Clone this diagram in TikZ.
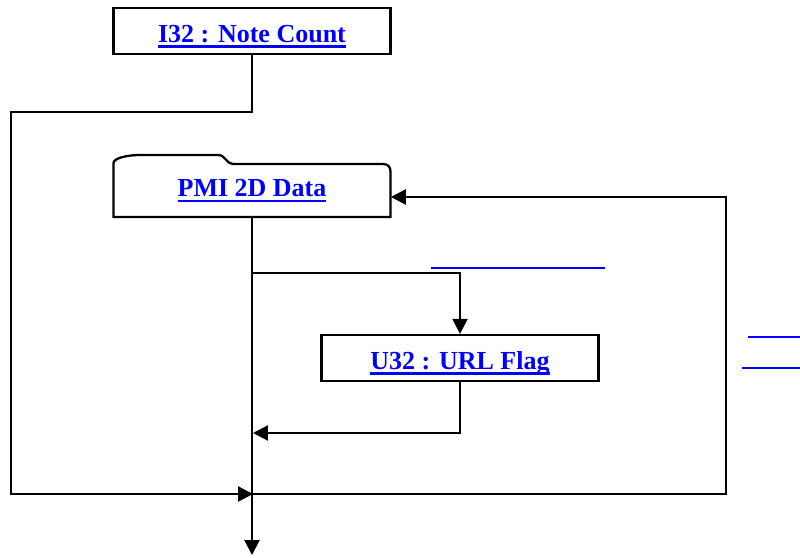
\documentclass[tikz,border=0pt]{standalone}
\usepackage{fontspec}
\setmainfont{Liberation Serif}
\usepackage{tikz}
\usetikzlibrary{positioning, arrows.meta}

\definecolor{linkblue}{RGB}{0,0,255}
\newcommand{\lnk}[1]{\textcolor{linkblue}{\sbox0{#1}\rlap{\usebox0}\rule[-3pt]{\wd0}{1.5pt}}}

\begin{document}
\begin{tikzpicture}[x=0.02cm, y=-0.02cm,
field/.style={rectangle, draw, line width=1.3pt, minimum width=5.54cm, minimum height=0.92cm,
  text height=13.6pt, text depth=0.4pt, font=\fontsize{14.8}{17}\selectfont\bfseries},
data/.style={rectangle, minimum width=5.54cm, minimum height=1.04cm,
  text height=10.2pt, text depth=3.4pt, font=\fontsize{14.8}{17}\selectfont\bfseries},
line/.style={line width=1.3pt},
arr/.style={line width=1.3pt, -{Triangle[length=8.5pt, width=8.5pt]}},
blank/.style={line width=1.5pt, linkblue}
]
\useasboundingbox (0,0) rectangle (800,557);

\node[field] (count) at (252,31) {\lnk{I32 : Note Count}};
\node[data] (pmi) at (252,191) {\lnk{PMI 2D Data}};
\node[field] (url) at (460,358) {\lnk{U32 : URL Flag}};

% folder outline round PMI
\draw[line] (113.5,217) -- (113.5,163) .. controls (113.5,158) and (128,155) .. (140,155)
  -- (218,155) .. controls (226,155) and (226,164) .. (233,164)
  -- (383,164) .. controls (389,164) and (390.5,168) .. (390.5,172) -- (390.5,217) -- cycle;

\coordinate (lt) at (11,112);
\coordinate (lb) at (11,494);
\coordinate (mj) at (253,494);
\coordinate (rb) at (726,494);
\coordinate (br) at (252,273);
\coordinate (rt) at (253,433);
\coordinate (end) at (252,555);

\draw[arr] (count.south) |- (lt) -- (lb) -- (mj);
\draw[arr] (pmi.south) -- (end);
\draw[arr] (br) -| (url.north);
\draw[arr] (url.south) |- (rt);
\draw[arr] (252,494) -- (rb) |- ([yshift=-0.12cm]pmi.east);

% empty links
\draw[blank] (431,268) -- (605,268);
\draw[blank] (748,337) -- (800,337);
\draw[blank] (742,368) -- (800,368);

\end{tikzpicture}
\end{document}
